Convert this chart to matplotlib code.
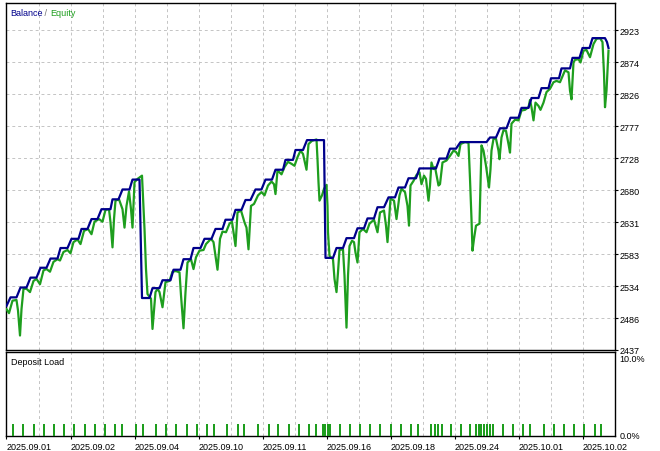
import matplotlib
matplotlib.use("Agg")
import matplotlib.pyplot as plt
from matplotlib.ticker import FixedLocator

plt.rcParams['font.family'] = ['Liberation Sans', 'DejaVu Sans']

# axis labels
date_labels = ["2025.09.01", "2025.09.02", "2025.09.04", "2025.09.10", "2025.09.11",
               "2025.09.16", "2025.09.18", "2025.09.24", "2025.10.01", "2025.10.02"]
date_pos = [0, 64, 128, 192, 256, 320, 384, 448, 512, 576]
grid_pos = [32, 96, 160, 224, 288, 352, 416, 480, 544]
ytick_vals = [2437, 2485.6, 2534.2, 2582.8, 2631.4, 2680, 2728.6, 2777.2, 2825.8, 2874.4, 2923]
ytick_labels = ["2437", "2486", "2534", "2583", "2631", "2680", "2728", "2777", "2826", "2874", "2923"]

# balance curve (deal index, value)
bal_x = [0, 4, 10, 14, 20, 24, 30, 34, 40, 44,
         51, 54, 61, 65, 72, 75, 81, 85, 91, 95,
         104, 106, 112, 116, 123, 126, 133, 135.5, 143, 146,
         153, 156, 164, 167, 174, 177, 184, 187, 194, 198,
         205, 209, 216, 219, 226, 229, 235, 239, 244, 249,
         255, 259, 265.5, 269, 276.5, 279, 286.5, 289, 296.5, 300.5,
         317.5, 319, 326.5, 330, 336.5, 340, 347.5, 351, 357.5, 361,
         367.5, 371, 377.5, 382, 388.5, 392, 398.5, 402, 409.5, 413,
         429.5, 433, 440, 443.5, 449.5, 454, 480, 483.5, 489.5, 493.5,
         500, 504, 512, 515, 522, 525, 532, 535, 542, 544.5,
         552.5, 555, 563.5, 566, 573, 576, 583, 586, 598.5, 600.5,
         602]
bal_v = [2504, 2517, 2517, 2532, 2532, 2547, 2547, 2562, 2562, 2576,
         2576, 2592, 2592, 2606, 2606, 2621, 2621, 2636, 2636, 2651,
         2651, 2666, 2666, 2681, 2681, 2696, 2696, 2516, 2516, 2531,
         2531, 2543, 2543, 2559, 2559, 2575, 2575, 2592, 2592, 2606,
         2606, 2621, 2621, 2635, 2635, 2650, 2650, 2665, 2665, 2681,
         2681, 2696, 2696, 2711, 2711, 2726, 2726, 2741, 2741, 2756,
         2756, 2577, 2577, 2592, 2592, 2607, 2607, 2622, 2622, 2637,
         2637, 2654, 2654, 2669, 2669, 2684, 2684, 2698, 2698, 2713,
         2713, 2728, 2728, 2743, 2743, 2753, 2753, 2760, 2760, 2774,
         2774, 2790, 2790, 2805, 2805, 2820, 2820, 2835, 2835, 2850,
         2850, 2865, 2865, 2881, 2881, 2896, 2896, 2911, 2911, 2905,
         2896]

# equity curve
eq_x = [0, 2.5, 6, 10, 11.5, 13.5, 15, 17, 20, 23.5,
        27, 30, 33.5, 37, 40, 43.5, 47, 51, 53.5, 57,
        61, 64, 67, 71, 74, 77.5, 81.5, 85, 88, 92.5,
        96, 99, 102.5, 104, 106, 107.5, 109, 112.5, 116, 118,
        120, 122.5, 124.5, 126, 128, 131, 135.5, 138, 139.5, 141,
        144.5, 146, 149, 151, 153, 156, 159, 163, 166, 169.5,
        173, 174.5, 177, 179, 181, 184.5, 187, 189.5, 193, 197,
        199.5, 204.5, 207, 209, 211, 213.5, 216, 219.5, 223, 225.5,
        227, 229, 231, 234.5, 238, 240, 242, 244.5, 247.5, 251.5,
        255, 258, 261.5, 265, 267.5, 269, 271, 275, 278, 281.5,
        285, 288, 291, 294, 296.5, 300, 302, 305.5, 310, 311,
        312, 313, 315.5, 317.5, 320, 321, 321.5, 323, 326.5, 328,
        330, 331.5, 333, 336.5, 338, 340, 341.5, 343, 345.5, 347.5,
        349, 351, 353, 356.5, 360, 363, 367.5, 371, 373.5, 377.5,
        379.5, 381, 383, 384, 387.5, 390, 393, 395, 398.5, 401,
        402.5, 404, 407, 410, 413, 415, 417.5, 419.5, 422, 423.5,
        425, 427, 428.5, 432, 433.5, 436, 440, 443.5, 447, 449.5,
        452, 454, 458.5, 462, 463.5, 465, 466, 467.5, 469.5, 473,
        475, 477, 479.5, 482.5, 484, 485, 487, 489.5, 492, 493,
        495, 497, 499.5, 502, 503.5, 505, 508.5, 512, 515, 518.5,
        522, 523.5, 525, 527, 529, 532, 534, 537, 540, 543.5,
        547, 550, 553.5, 558.5, 562, 563.5, 565, 567, 568.5, 572,
        574, 577, 580, 583.5, 587, 590, 593.5, 596, 597.5, 598.5,
        600, 602]
eq_v = [2499, 2493, 2512, 2513, 2497, 2459, 2499, 2530, 2530, 2525,
        2542, 2545, 2537, 2558, 2560, 2556, 2571, 2575, 2573, 2586,
        2589, 2584, 2601, 2605, 2598, 2618, 2621, 2613, 2632, 2636,
        2632, 2650, 2651, 2631, 2593, 2636, 2664, 2666, 2651, 2623,
        2656, 2678, 2651, 2623, 2692, 2697, 2702, 2621, 2560, 2522,
        2515, 2469, 2525, 2530, 2525, 2502, 2540, 2542, 2556, 2557,
        2555, 2520, 2470, 2525, 2570, 2575, 2560, 2578, 2588, 2589,
        2598, 2606, 2601, 2580, 2559, 2606, 2617, 2616, 2629, 2632,
        2616, 2595, 2646, 2649, 2631, 2623, 2590, 2656, 2659, 2672,
        2677, 2672, 2687, 2693, 2689, 2674, 2710, 2704, 2715, 2723,
        2720, 2717, 2730, 2740, 2735, 2711, 2750, 2755, 2757, 2727,
        2692, 2664, 2672, 2682, 2688, 2656, 2616, 2580, 2575, 2545,
        2525, 2555, 2589, 2590, 2550, 2471, 2550, 2595, 2603, 2601,
        2585, 2570, 2616, 2621, 2616, 2629, 2635, 2616, 2646, 2649,
        2626, 2601, 2646, 2667, 2664, 2636, 2672, 2682, 2677, 2656,
        2626, 2687, 2694, 2703, 2707, 2689, 2702, 2697, 2664, 2687,
        2722, 2712, 2715, 2687, 2689, 2722, 2725, 2732, 2740, 2738,
        2732, 2750, 2753, 2752, 2697, 2636, 2588, 2606, 2626, 2629,
        2748, 2740, 2717, 2684, 2712, 2740, 2758, 2758, 2740, 2727,
        2760, 2771, 2770, 2750, 2737, 2781, 2787, 2786, 2801, 2802,
        2806, 2817, 2806, 2786, 2813, 2808, 2802, 2813, 2829, 2834,
        2844, 2846, 2844, 2862, 2859, 2831, 2818, 2874, 2878, 2879,
        2874, 2892, 2893, 2882, 2902, 2910, 2911, 2905, 2857, 2806,
        2831, 2892]

# deposit load (%) per deal
load_x = [6, 16, 27, 37.5, 47.5, 57.5, 67.5, 78, 88, 98.5,
          108.5, 115, 129.5, 136, 149, 159, 169.5, 180, 190, 200,
          207, 220, 231, 237, 251, 262, 271, 282, 292.5, 302,
          309.5, 316, 318.5, 321, 323.5, 333, 343.5, 353.5, 363.5, 373.5,
          384.5, 394, 404, 411, 424.5, 428, 431, 435, 444.5, 454.5,
          463, 469.5, 472, 474, 477, 480, 483.5, 486, 496, 506,
          516, 523, 537, 547, 557, 567, 577.5, 588.5, 594]
load_v = [1.4, 1.4, 1.4, 1.4, 1.4, 1.4, 1.4, 1.4, 1.4, 1.4,
          1.4, 1.4, 1.4, 1.4, 1.4, 1.4, 1.4, 1.4, 1.4, 1.4,
          1.4, 1.4, 1.4, 1.4, 1.4, 1.4, 1.4, 1.4, 1.4, 1.4,
          1.4, 1.4, 1.4, 1.4, 1.4, 1.4, 1.4, 1.4, 1.4, 1.4,
          1.4, 1.4, 1.4, 1.4, 1.4, 1.4, 1.4, 1.4, 1.4, 1.4,
          1.4, 1.4, 1.4, 1.4, 1.4, 1.4, 1.4, 1.4, 1.4, 1.4,
          1.4, 1.4, 1.4, 1.4, 1.4, 1.4, 1.4, 1.4, 1.4]

BLUE = "#00008b"
GREEN = "#1e9e1e"
GRID = "#c4c4c4"
FS = 6.5

W, H = 660, 452
fig = plt.figure(figsize=(W / 100, H / 100), dpi=100)
ax = fig.add_axes([6.5 / W, 1 - 351 / H, 608 / W, 347 / H])
ax2 = fig.add_axes([6.5 / W, 1 - 437 / H, 608 / W, 84 / H])

# top panel: balance / equity
ax.plot(eq_x, eq_v, color=GREEN, lw=1.6, zorder=3)
ax.plot(bal_x, bal_v, color=BLUE, lw=1.6, zorder=4)
ax.set_xlim(0, 608)
ax.set_ylim(2437, 2964.4)

ax.set_yticks(ytick_vals)
ax.set_yticklabels(ytick_labels)
ax.yaxis.tick_right()
ax.tick_params(axis="y", direction="out", length=2.5, width=0.8, pad=1.5, labelsize=FS)
ax.xaxis.set_major_locator(FixedLocator(date_pos))
ax.xaxis.set_minor_locator(FixedLocator(grid_pos))
ax.tick_params(axis="x", which="both", length=0, labelbottom=False)
ax.grid(True, which="both", color=GRID, linestyle=(0, (3, 3)), lw=0.7)

t1 = ax.annotate("Balance", xy=(0, 1), xycoords="axes fraction", xytext=(2.5, -3.8),
                 textcoords="offset points", ha="left", va="top", color=BLUE, fontsize=FS)
t2 = ax.annotate(" / ", xy=(1, 0), xycoords=t1, ha="left", va="bottom", color="#707070", fontsize=FS)
ax.annotate("Equity", xy=(1, 0), xycoords=t2, ha="left", va="bottom", color=GREEN, fontsize=FS)

# bottom panel: deposit load
ax2.bar(load_x, load_v, width=2, color=GREEN, zorder=3)
ax2.set_xlim(0, 608)
ax2.set_ylim(0, 10)
ax2.set_yticks([])
ax2.xaxis.set_major_locator(FixedLocator(date_pos))
ax2.xaxis.set_minor_locator(FixedLocator(grid_pos))
ax2.set_xticklabels(date_labels, ha="left", fontsize=FS)
ax2.tick_params(axis="x", which="major", direction="out", length=2.5, width=0.8, pad=1.5)
ax2.tick_params(axis="x", which="minor", length=0)
ax2.grid(True, axis="x", which="both", color=GRID, linestyle=(0, (3, 3)), lw=0.7)
ax2.annotate("Deposit Load", xy=(0, 1), xycoords="axes fraction", xytext=(3.2, -3.6),
             textcoords="offset points", ha="left", va="top", fontsize=FS)
ax2.annotate("10.0%", xy=(1, 1), xycoords="axes fraction", xytext=(3.5, -1.5),
             textcoords="offset points", ha="left", va="top", fontsize=FS)
ax2.annotate("0.0%", xy=(1, 0), xycoords="axes fraction", xytext=(3.5, 0),
             textcoords="offset points", ha="left", va="center", fontsize=FS)

for a in (ax, ax2):
    for s in a.spines.values():
        s.set_color("black")
        s.set_linewidth(1.0)

fig.savefig("out.png", dpi=100)
